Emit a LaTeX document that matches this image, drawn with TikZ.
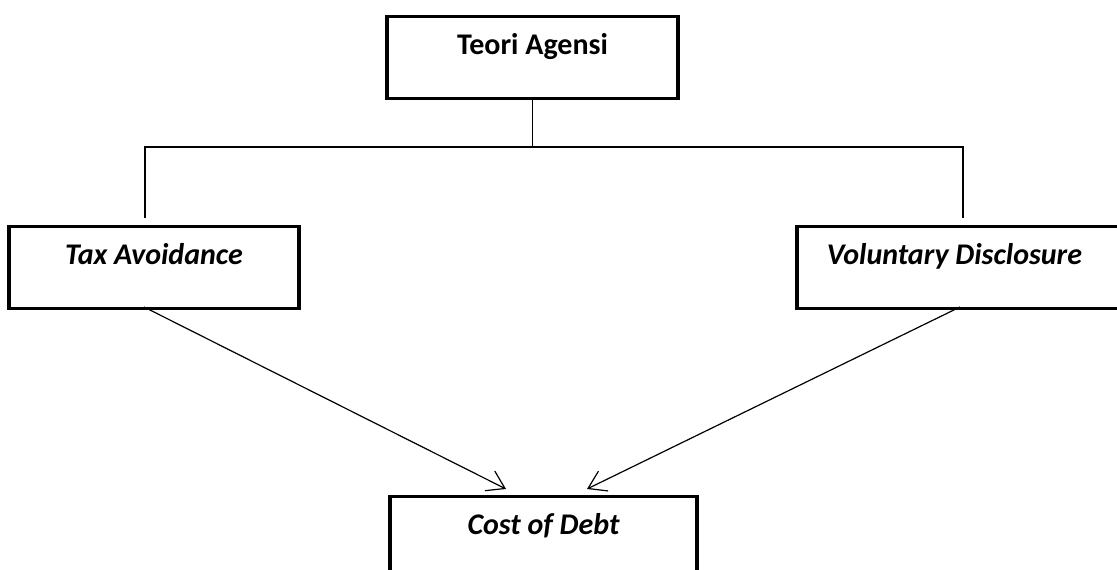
\documentclass[tikz,border=0pt]{standalone}
\usepackage{fontspec}
\setmainfont{Carlito}
\usetikzlibrary{arrows.meta}
\begin{document}
\begin{tikzpicture}[x=1pt,y=-1pt,
  boxnode/.style={draw, line width=3.2pt, inner xsep=0pt, inner ysep=0pt,
    text height=38pt, text depth=44pt, anchor=north},
  boxfont/.style={font=\fontsize{30}{34}\selectfont\bfseries},
  boxifont/.style={font=\fontsize{30}{34}\selectfont\bfseries\itshape},
  link/.style={line width=1.2pt},
  arr/.style={line width=1.2pt, -{Straight Barb[length=17pt,width=22pt,line width=1.2pt]}}]
\useasboundingbox (0,0) rectangle (1117,570);
\clip (0,0) rectangle (1117,570);
\node[boxnode, boxfont, minimum width=291pt] (teori) at (532.5,15) {Teori Agensi};
\node[boxnode, boxifont, minimum width=290pt] (tax) at (154,225) {Tax Avoidance};
\node[boxnode, boxifont, minimum width=330pt] (vol) at (962,225) {\hspace*{-7.5pt}Voluntary Disclosure\hspace*{7.5pt}};
\node[boxnode, boxifont, minimum width=307pt, text depth=90pt] (cost) at (543.5,495) {Cost of Debt};
\coordinate (hl) at (145,147);
\coordinate (hr) at (963,147);
\coordinate (hm) at (teori.south |- hl);
\coordinate (tv) at (145,218);
\coordinate (vv) at (963,218);
\draw[link] (teori.south) -- (hm);
\draw[link] (tv) -- (hl) -- (hr) -- (vv);
\coordinate (tl) at (144,307);
\coordinate (vr) at (960,307);
\coordinate (cl) at (506,489);
\coordinate (cr) at (587,489);
\draw[arr] (tl) -- (cl);
\draw[arr] (vr) -- (cr);
\end{tikzpicture}
\end{document}
